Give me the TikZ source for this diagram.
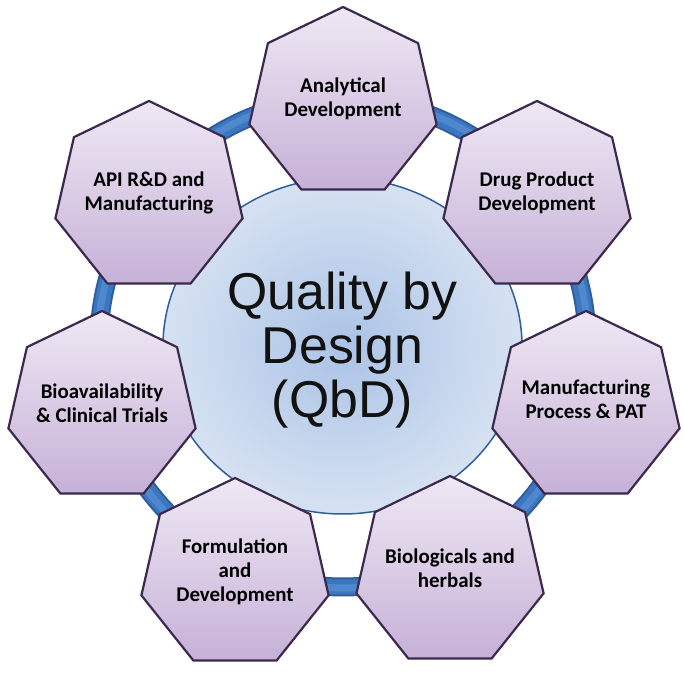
\documentclass[tikz,border=0pt]{standalone}
\usepackage{fontspec}
\setmainfont{Carlito}
\newfontfamily\arialf{Liberation Sans}
\usetikzlibrary{calc}
\definecolor{heptTop}{HTML}{EFE8F4}
\definecolor{heptBot}{HTML}{C6B1D7}
\definecolor{heptLine}{HTML}{3B2A4E}
\definecolor{circIn}{HTML}{ABC3E6}
\definecolor{circOut}{HTML}{D6E2F2}
\definecolor{circLine}{HTML}{2D5E9B}
\definecolor{ringDark}{HTML}{2E5E9E}
\definecolor{ringMid}{HTML}{3B76BE}
\definecolor{ringLight}{HTML}{4F88CF}
\tikzset{
  hept/.style={draw=heptLine, line width=2.2bp, line join=miter, top color=heptTop, bottom color=heptBot},
  hlabel/.style={align=center, font=\fontsize{21}{24}\selectfont\bfseries, text=black, inner sep=0pt},
  qbd/.style={align=center, font=\arialf\fontsize{52}{54}\selectfont, text=black!93, inner sep=0pt}
}
\newcommand\drawhept[1]{%
  \path[hept] ($(#1)+(90:96)$) \foreach \k in {1,...,6}{ -- ($(#1)+({90+\k*360/7}:96)$)} -- cycle;}
\begin{document}
\begin{tikzpicture}[x=1bp,y=1bp]
\useasboundingbox[fill=white] (0,0) rectangle (685,675);
% centers
\coordinate (ringc) at (343,332);
\coordinate (circc) at (342.5,329);
\coordinate (hA) at (343,572);
\coordinate (hD) at (537,478);
\coordinate (hM) at (586,268);
\coordinate (hB) at (450,103);
\coordinate (hF) at (235,101);
\coordinate (hV) at (102,268);
\coordinate (hP) at (149,478);
% ring
\draw[ringDark, line width=19bp] (ringc) circle[radius=244];
\draw[ringMid, line width=15bp] (ringc) circle[radius=244];
\draw[ringLight, line width=7bp] (ringc) circle[radius=245];
% central circle
\path[inner color=circIn, outer color=circOut, draw=circLine, line width=1.5bp]
  (circc) ellipse[x radius=179.5, y radius=168];
\node[qbd] (qbd) at (342.5,325) {Quality by\\Design\\(QbD)};
% heptagons
\drawhept{hA}\drawhept{hD}\drawhept{hM}\drawhept{hB}\drawhept{hF}\drawhept{hV}\drawhept{hP}
\node[hlabel] (lA) at ($(hA)+(0,4)$) {Analytical\\Development};
\node[hlabel] (lD) at ($(hD)+(0,4)$) {Drug Product\\Development};
\node[hlabel] (lM) at ($(hM)+(0,8)$) {Manufacturing\\Process \& PAT};
\node[hlabel] (lB) at ($(hB)+(0,4)$) {Biologicals and\\herbals};
\node[hlabel] (lF) at ($(hF)+(0,2)$) {Formulation\\and\\Development};
\node[hlabel] (lV) at ($(hV)+(0,4)$) {Bioavailability\\\& Clinical Trials};
\node[hlabel] (lP) at ($(hP)+(0,4)$) {API R\&D and\\Manufacturing};
\end{tikzpicture}
\end{document}
